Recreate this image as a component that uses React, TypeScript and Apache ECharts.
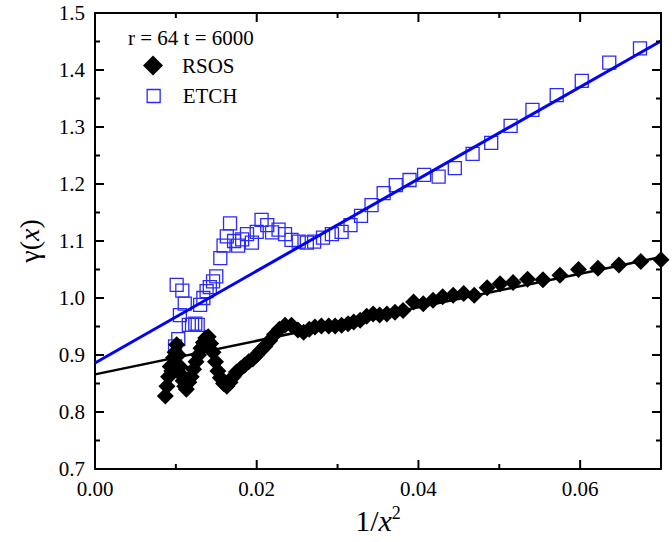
import React, { useEffect, useRef } from "react";
import * as echarts from "echarts";

// ---- Data ----
const etchX = [
  0.0099, 0.0101, 0.0103, 0.0105, 0.0108, 0.0111, 0.0116, 0.012, 0.0124, 0.0127,
  0.013, 0.0134, 0.0138, 0.0142, 0.0146, 0.015, 0.0155, 0.0159, 0.0163, 0.0167,
  0.0172, 0.0177, 0.0182, 0.0188, 0.0194, 0.02, 0.0206, 0.0213, 0.0219, 0.0227,
  0.0235, 0.0243, 0.0252, 0.0262, 0.0271, 0.0282, 0.0293, 0.0305, 0.0316, 0.0329,
  0.0342, 0.0357, 0.0372, 0.0389, 0.0407, 0.0425, 0.0445, 0.0467, 0.049, 0.0514,
  0.0541, 0.0571, 0.0602, 0.0636, 0.0674,
];
const etchY = [
  0.915, 1.023, 0.928, 0.97, 1.013, 0.99, 0.953, 0.953, 0.955, 0.953,
  0.988, 1.0, 1.012, 1.019, 1.029, 1.038, 1.07, 1.092, 1.108, 1.131,
  1.1, 1.092, 1.103, 1.112, 1.097, 1.116, 1.137, 1.128, 1.115, 1.12,
  1.112, 1.102, 1.099, 1.097, 1.099, 1.106, 1.112, 1.116, 1.128, 1.144,
  1.163, 1.184, 1.198, 1.207, 1.216, 1.213, 1.228, 1.253, 1.272, 1.302,
  1.33, 1.356, 1.381, 1.413, 1.438,
];

const rsosX = [
  0.0087, 0.0089, 0.0091, 0.0093, 0.0095, 0.0097, 0.0099, 0.0101, 0.0103, 0.0105,
  0.0107, 0.0109, 0.0111, 0.0113, 0.0116, 0.0119, 0.0122, 0.0125, 0.0128, 0.0131,
  0.0134, 0.0137, 0.014, 0.0143, 0.0146, 0.0149, 0.0152, 0.0155, 0.0159, 0.0163,
  0.0167, 0.0171, 0.0175, 0.018, 0.0185, 0.019, 0.0195, 0.02, 0.0205, 0.021,
  0.0216, 0.0222, 0.0228, 0.0235, 0.0243, 0.0251, 0.0258, 0.0265, 0.0272, 0.028,
  0.0289, 0.0297, 0.0305, 0.0313, 0.032, 0.0328, 0.0336, 0.0344, 0.0352, 0.0361,
  0.0371, 0.0381, 0.0394, 0.0406, 0.0418, 0.043, 0.0443, 0.0456, 0.0469, 0.0485,
  0.0501, 0.0517, 0.0535, 0.0554, 0.0575, 0.0598, 0.0622, 0.0648, 0.0675, 0.07,
];
const rsosY = [
  0.828, 0.845, 0.862, 0.88, 0.872, 0.895, 0.905, 0.918, 0.9, 0.88,
  0.865, 0.855, 0.845, 0.84, 0.852, 0.862, 0.875, 0.888, 0.9, 0.912,
  0.922, 0.93, 0.932, 0.92, 0.905, 0.888, 0.872, 0.86, 0.85, 0.845,
  0.852, 0.862, 0.87, 0.876, 0.882, 0.888, 0.893, 0.9, 0.908, 0.915,
  0.925, 0.936, 0.945, 0.952, 0.952, 0.944, 0.94, 0.945, 0.949, 0.951,
  0.951, 0.951, 0.952, 0.955, 0.958, 0.961, 0.968, 0.972, 0.97, 0.972,
  0.975, 0.978, 0.993, 0.99, 0.996, 1.002, 1.005, 1.008, 1.005, 1.018,
  1.025, 1.027, 1.033, 1.032, 1.04, 1.05, 1.052, 1.058, 1.064, 1.067,
];

const fitX = [0, 0.07];
const rsosFitY = [0.866, 1.072];
const etchFitY = [0.886, 1.451];

// tick values
const xMajorTicks = [0, 0.02, 0.04, 0.06];
const xMinorTicks = [0.01, 0.03, 0.05];
const yMajorTicks = [0.7, 0.8, 0.9, 1.0, 1.1, 1.2, 1.3, 1.4, 1.5];
const yMinorTicks = [0.75, 0.85, 0.95, 1.05, 1.15, 1.25, 1.35, 1.45];

const headerText = "r = 64 t = 6000";
const seriesNames = ["RSOS", "ETCH"];

const FONT = "Liberation Serif";

function frameLine() {
  return { show: true, onZero: false, lineStyle: { color: "#000", width: 2 } };
}

export default function App() {
  const ref = useRef<HTMLDivElement>(null);

  useEffect(() => {
    if (!ref.current) return;
    const chart = echarts.init(ref.current, undefined, { renderer: "svg" });

    const header = {
      type: "text",
      left: 128,
      top: 27,
      style: { text: headerText, font: `21px "${FONT}"`, fill: "#000" },
    };

    const xAxis = [
      {
        type: "value", min: 0, max: 0.07, interval: 0.02, position: "bottom",
        splitLine: { show: false }, axisLine: frameLine(), axisTick: { show: false },
        axisLabel: {
          fontFamily: FONT, fontSize: 21, color: "#000", margin: 9, showMaxLabel: false,
          formatter: (v: number) => v.toFixed(2),
        },
        name: "{a|1/}{b|x}{c|2}",
        nameLocation: "middle",
        nameGap: 31,
        nameTextStyle: {
          rich: {
            a: { fontFamily: FONT, fontSize: 30, color: "#000", lineHeight: 34 },
            b: { fontFamily: FONT, fontSize: 30, fontStyle: "italic", color: "#000", lineHeight: 34 },
            c: { fontFamily: FONT, fontSize: 18, color: "#000", verticalAlign: "top", lineHeight: 34 },
          },
        },
      },
      {
        type: "value", min: 0, max: 0.07, interval: 0.02, position: "top",
        splitLine: { show: false }, axisLine: frameLine(), axisTick: { show: false }, axisLabel: { show: false },
      },
    ];

    const yAxis = [
      {
        type: "value", min: 0.7, max: 1.5, interval: 0.1, position: "left",
        splitLine: { show: false }, axisLine: frameLine(), axisTick: { show: false },
        axisLabel: {
          fontFamily: FONT, fontSize: 21, color: "#000", margin: 10,
          formatter: (v: number) => v.toFixed(1),
        },
        name: "{a|γ(}{b|x}{a|)}",
        nameLocation: "middle",
        nameRotate: 90,
        nameGap: 52,
        nameTextStyle: {
          rich: {
            a: { fontFamily: FONT, fontSize: 28, color: "#000" },
            b: { fontFamily: FONT, fontSize: 28, fontStyle: "italic", color: "#000" },
          },
        },
      },
      {
        type: "value", min: 0.7, max: 1.5, interval: 0.1, position: "right",
        splitLine: { show: false }, axisLine: frameLine(), axisTick: { show: false }, axisLabel: { show: false },
      },
    ];

    const option: any = {
      animation: false,
      backgroundColor: "#ffffff",
      grid: { left: 95, top: 13, width: 566, height: 456 },
      graphic: [header],
      legend: [
        {
          data: [{ name: seriesNames[0], icon: "diamond", itemStyle: { color: "#000", opacity: 1 } }],
          orient: "vertical",
          left: 143,
          top: 55,
          padding: 0,
          itemWidth: 20,
          itemHeight: 20,
          selectedMode: false,
          textStyle: { fontFamily: FONT, fontSize: 21, color: "#000", padding: [0, 0, 0, 14] },
        },
        {
          data: [
            {
              name: seriesNames[1],
              icon: "rect",
              itemStyle: { color: "rgba(0,0,0,0)", borderColor: "#2a2aff", borderWidth: 1.3, opacity: 1 },
            },
          ],
          orient: "vertical",
          left: 146.5,
          top: 85.5,
          padding: 0,
          itemWidth: 13,
          itemHeight: 13,
          selectedMode: false,
          textStyle: { fontFamily: FONT, fontSize: 21, color: "#000", padding: [0, 0, 0, 17.5] },
        },
      ],
      xAxis,
      yAxis,
      series: [
        {
          name: seriesNames[1],
          type: "scatter",
          data: etchX.map((x, i) => [x, etchY[i]]),
          symbol: "rect",
          symbolSize: 13,
          itemStyle: { color: "rgba(0,0,0,0)", borderColor: "#2a2aff", borderWidth: 1.3, opacity: 1 },
        },
        {
          name: "ETCH fit",
          type: "line",
          data: fitX.map((x, i) => [x, etchFitY[i]]),
          symbol: "none",
          lineStyle: { color: "#0000ff", width: 3 },
        },
        {
          name: "RSOS fit",
          type: "line",
          data: fitX.map((x, i) => [x, rsosFitY[i]]),
          symbol: "none",
          lineStyle: { color: "#000", width: 2.5 },
        },
        {
          name: seriesNames[0],
          type: "scatter",
          data: rsosX.map((x, i) => [x, rsosY[i]]),
          symbol: "diamond",
          symbolSize: 17,
          itemStyle: { color: "#000", opacity: 1 },
        },
      ],
    };

    chart.setOption(option);

    // Tick marks on all four sides, positioned through the axes' own scales.
    const px = (v: number) => chart.convertToPixel({ xAxisIndex: 0 } as any, v) as number;
    const py = (v: number) => chart.convertToPixel({ yAxisIndex: 0 } as any, v) as number;
    const left = px(0);
    const right = px(0.07);
    const bottom = py(0.7);
    const top = py(1.5);
    const tickStyle = { stroke: "#000", lineWidth: 2 };
    const ticks: any[] = [];
    const addX = (vals: number[], len: number) => {
      vals.forEach((v) => {
        const x = px(v);
        ticks.push({ type: "line", silent: true, z: 50, shape: { x1: x, y1: bottom, x2: x, y2: bottom - len }, style: tickStyle });
        ticks.push({ type: "line", silent: true, z: 50, shape: { x1: x, y1: top, x2: x, y2: top + len }, style: tickStyle });
      });
    };
    const addY = (vals: number[], len: number) => {
      vals.forEach((v) => {
        const y = py(v);
        ticks.push({ type: "line", silent: true, z: 50, shape: { x1: left, y1: y, x2: left + len, y2: y }, style: tickStyle });
        ticks.push({ type: "line", silent: true, z: 50, shape: { x1: right, y1: y, x2: right - len, y2: y }, style: tickStyle });
      });
    };
    addX(xMajorTicks, 9);
    addX(xMinorTicks, 5);
    addY(yMajorTicks, 9);
    addY(yMinorTicks, 5);

    chart.setOption({ graphic: [header, ...ticks] });

    return () => chart.dispose();
  }, []);

  return (
    <div
      ref={ref}
      style={{ position: "fixed", left: 0, top: 0, width: 672, height: 542, background: "#fff" }}
    />
  );
}
